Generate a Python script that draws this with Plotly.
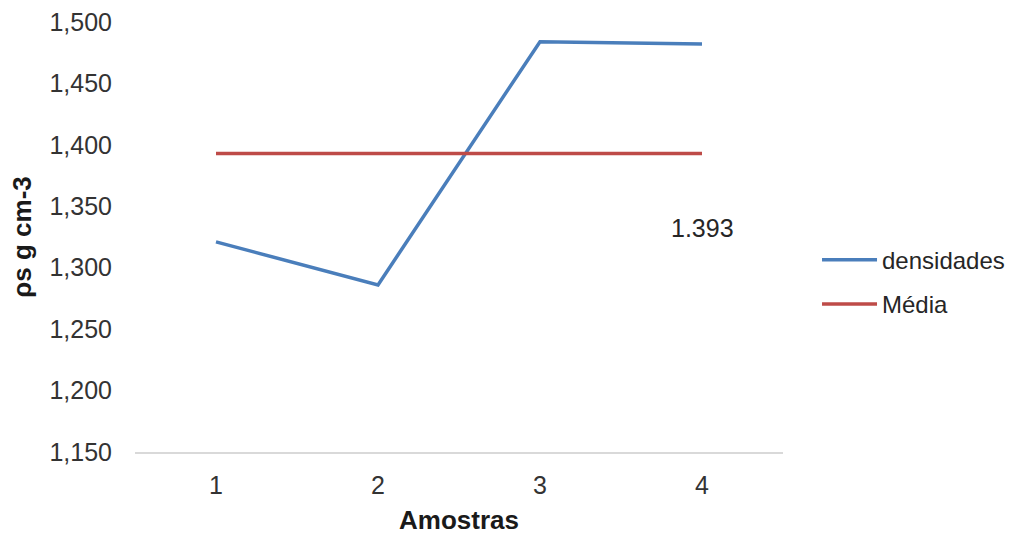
import plotly.graph_objects as go

# Amostras e densidades medidas
amostras = [1, 2, 3, 4]
densidades = [1.321, 1.286, 1.484, 1.482]
media_valor = 1.393
media = [media_valor] * len(amostras)

y_ticks = [1.15, 1.20, 1.25, 1.30, 1.35, 1.40, 1.45, 1.50]
y_tick_text = ["1,150", "1,200", "1,250", "1,300", "1,350", "1,400", "1,450", "1,500"]

FONT = "Liberation Sans, Arial, sans-serif"

fig = go.Figure()
fig.add_trace(go.Scatter(
    x=amostras, y=densidades, mode="lines", name="densidades",
    line=dict(color="#4A7EBB", width=3.5), legendgroup="a",
))
fig.add_trace(go.Scatter(
    x=amostras, y=media, mode="lines", name="Média",
    line=dict(color="#BE4B48", width=3.5), legendgroup="b",
))

fig.add_annotation(
    x=amostras[-1], y=1.332, text=f"{media_valor:.3f}", showarrow=False,
    font=dict(family=FONT, size=25, color="#262626"),
    xanchor="center", yanchor="middle",
)

fig.update_layout(
    width=1026, height=535,
    margin=dict(l=135, r=243, t=22, b=83),
    paper_bgcolor="white", plot_bgcolor="white",
    font=dict(family=FONT, color="#333333"),
    showlegend=True,
    legend=dict(
        x=1.0525, xanchor="left", y=0.395, yanchor="middle",
        font=dict(family=FONT, size=24, color="#262626"),
        traceorder="grouped", tracegroupgap=10,
        bgcolor="rgba(0,0,0,0)", itemwidth=55,
    ),
    xaxis=dict(
        range=[0.5, 4.5], tickmode="array", tickvals=amostras,
        ticktext=[str(a) for a in amostras],
        showgrid=False, zeroline=False, automargin=False,
        showline=True, linecolor="#D9D9D9", linewidth=1.5,
        ticks="", ticklabelstandoff=10,
        tickfont=dict(family=FONT, size=25, color="#333333"),
        title=dict(text="<b>Amostras</b>", standoff=24,
                   font=dict(family=FONT, size=26, color="#1a1a1a")),
    ),
    yaxis=dict(
        range=[1.15, 1.5], tickmode="array", tickvals=y_ticks, ticktext=y_tick_text,
        showgrid=False, zeroline=False, showline=False, automargin=False,
        ticks="", ticklabelstandoff=22,
        tickfont=dict(family=FONT, size=25, color="#333333"),
        title=dict(text="<b>ρs g cm-3</b>", standoff=10,
                   font=dict(family=FONT, size=26, color="#1a1a1a")),
    ),
)

fig.write_html("out.html")
